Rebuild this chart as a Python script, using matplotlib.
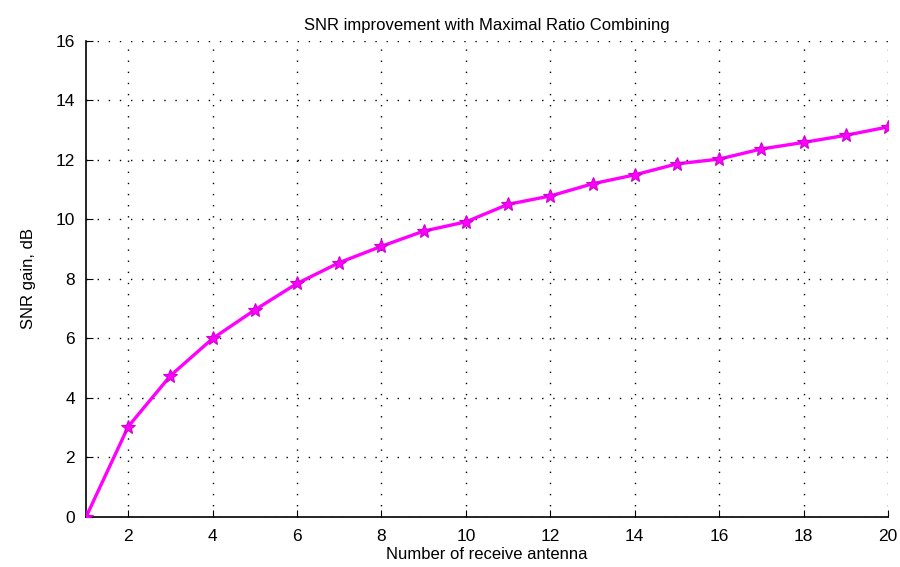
import matplotlib
matplotlib.use("Agg")
import matplotlib.pyplot as plt

# SNR gain of MRC versus number of receive antennas
n_rx = [1, 2, 3, 4, 5, 6, 7, 8, 9, 10, 11, 12, 13, 14, 15, 16, 17, 18, 19, 20]
snr_gain_db = [0.0, 3.04, 4.75, 6.0, 6.96, 7.85, 8.55, 9.1, 9.61, 9.92, 10.51, 10.79,
               11.2, 11.5, 11.87, 12.03, 12.37, 12.59, 12.83, 13.11]
x_ticks = [2, 4, 6, 8, 10, 12, 14, 16, 18, 20]
y_ticks = [0, 2, 4, 6, 8, 10, 12, 14, 16]

plt.rcParams['font.family'] = ['Liberation Sans', 'DejaVu Sans']

fig = plt.figure(figsize=(9, 5.67), dpi=100)
ax = fig.add_axes([0.0956, 0.0882, 0.891, 0.8395])

ax.plot(n_rx, snr_gain_db, color='#ff00ff', linewidth=2.4, marker='*',
        markersize=10, markerfacecolor='#ff00ff', markeredgecolor='#d000d0',
        markeredgewidth=0.8, zorder=3)

ax.set_xlim(1, 20)
ax.set_ylim(0, 16)
ax.set_xticks(x_ticks)
ax.set_yticks(y_ticks)
ax.grid(True, color='black', linestyle=(0, (1, 7)), linewidth=1.0)

ax.spines['top'].set_visible(False)
ax.spines['right'].set_visible(False)
ax.spines['left'].set_linewidth(1.2)
ax.spines['bottom'].set_linewidth(1.2)
ax.tick_params(direction='in', length=5, labelsize=12.5, pad=9)
ax.tick_params(axis='y', pad=8)

ax.set_title('SNR improvement with Maximal Ratio Combining', fontsize=12, pad=8)
ax.set_xlabel('Number of receive antenna', fontsize=12, labelpad=2)
ax.set_ylabel('SNR gain, dB', fontsize=12, labelpad=14)

fig.savefig('out.png', dpi=100)
